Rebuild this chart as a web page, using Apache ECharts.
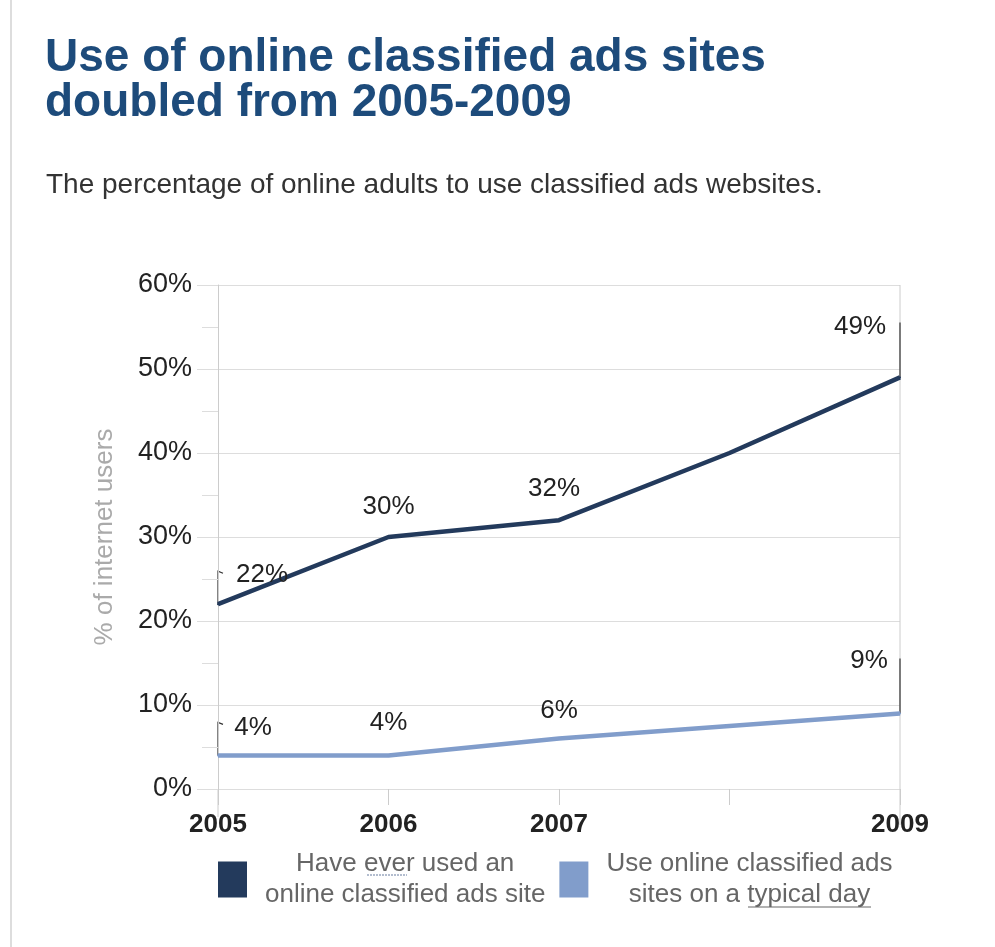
<!DOCTYPE html>
<html><head><meta charset="utf-8">
<script src="https://cdn.jsdelivr.net/npm/echarts@6/dist/echarts.min.js"></script>
<style>html,body{margin:0;padding:0;background:#fff}#c{width:995px;height:947px}</style>
</head><body><div id="c"></div>
<script>
// ---- data ----
const years = [2005, 2006, 2007, 2008, 2009];
const everUsed = [22, 30, 32, 40, 49];
const typicalDay = [4, 4, 6, 7.5, 9];
const labeledYears = [2005, 2006, 2007, 2009];
const xTickLabels = ['2005', '2006', '2007', '', '2009'];
const seriesNames = ['Have ever used an\nonline classified ads site', 'Use online classified ads\nsites on a typical day'];
const titleText = 'Use of online classified ads sites\ndoubled from 2005-2009';
const subtitleText = 'The percentage of online adults to use classified ads websites.';
const yAxisName = '% of internet users';

// ---- styles ----
const FONT = '"Liberation Sans", Arial, Helvetica, sans-serif';
const colors = ['#233a5c', '#819dcb'];
const labelOffsets = [
  {2005: [44, -29], 2006: [0, -30], 2007: [-5, -31], 2009: [-40, -51]},
  {2005: [35, -28], 2006: [0, -33], 2007: [0, -28], 2009: [-31, -53]}
];

function buildData(vals, si) {
  return years.map((y, i) => {
    const item = { value: [y, vals[i]] };
    if (labeledYears.indexOf(y) >= 0) {
      item.label = { show: true, position: 'inside', offset: labelOffsets[si][y] };
    } else {
      item.label = { show: false };
    }
    return item;
  });
}

const chart = echarts.init(document.getElementById('c'));
const option = {
  backgroundColor: '#fff',
  animation: false,
  title: [
    { text: titleText, left: 40, top: 31,
      textStyle: { fontFamily: FONT, fontSize: 46, fontWeight: 'bold', color: '#1d4b7b', lineHeight: 45 } },
    { text: subtitleText, left: 41, top: 166,
      textStyle: { fontFamily: FONT, fontSize: 28, fontWeight: 'normal', color: '#333' } }
  ],
  grid: { left: 218, right: 95, top: 285, bottom: 158 },
  xAxis: {
    type: 'value', min: 2005, max: 2009, interval: 1,
    axisLine: { show: false },
    axisTick: { show: true, length: 16, lineStyle: { color: '#ccc' } },
    splitLine: { show: false },
    axisLabel: { margin: 23, fontFamily: FONT, fontSize: 26, fontWeight: 'bold', color: '#222',
      formatter: v => xTickLabels[years.indexOf(v)] || '' }
  },
  yAxis: {
    type: 'value', min: 0, max: 60, interval: 10,
    name: yAxisName, nameLocation: 'middle', nameRotate: 90, nameGap: 100,
    nameTextStyle: { fontFamily: FONT, fontSize: 26, color: '#aaa' },
    axisLine: { show: true, lineStyle: { color: '#ccc' } },
    axisTick: { show: true, length: 21, lineStyle: { color: '#ddd' } },
    minorTick: { show: true, splitNumber: 2, length: 16, lineStyle: { color: '#ddd' } },
    splitLine: { show: true, lineStyle: { color: '#ddd' } },
    axisLabel: { margin: 26, fontFamily: FONT, fontSize: 27, color: '#222', formatter: v => v + '%' }
  },
  legend: {
    left: 218, top: 851, padding: 0, icon: 'rect', itemWidth: 29, itemHeight: 36, itemGap: 14,
    data: seriesNames.map((n, i) => ({ name: n, itemStyle: { color: colors[i] } })),
    formatter: name => name.split('\n').map(s => '{c|' + s + '}').join('\n'),
    textStyle: { padding: [0, 0, 0, 13], color: '#666', fontFamily: FONT, fontSize: 26,
      rich: { c: { align: 'center', color: '#666', fontFamily: FONT, fontSize: 26, lineHeight: 31 } } }
  },
  series: [everUsed, typicalDay].map((vals, si) => ({
    name: seriesNames[si], type: 'line', data: buildData(vals, si),
    symbol: 'circle', symbolSize: 2, showSymbol: true,
    lineStyle: { color: colors[si], width: 4.5 },
    itemStyle: { color: colors[si] },
    label: { fontFamily: FONT, fontSize: 26, color: '#222', formatter: p => p.value[1] + '%' },
    emphasis: { disabled: true }
  }))
};
chart.setOption(option);

// leader lines and decorations
const g = [];
g.push({ type: 'line', shape: { x1: 11, y1: 0, x2: 11, y2: 947 }, style: { stroke: '#ddd', lineWidth: 2 } });
const pBot = chart.convertToPixel({ gridIndex: 0 }, [2005, 0]);
const qTop = chart.convertToPixel({ gridIndex: 0 }, [2009, 60]);
g.push({ type: 'line', shape: { x1: pBot[0], y1: pBot[1], x2: pBot[0], y2: pBot[1] + 28 }, style: { stroke: '#ccc', lineWidth: 1 } });
g.push({ type: 'line', shape: { x1: qTop[0], y1: qTop[1], x2: qTop[0], y2: pBot[1] + 36 }, style: { stroke: '#ccc', lineWidth: 1 } });
[everUsed, typicalDay].forEach((vals, si) => {
  const a = chart.convertToPixel({ gridIndex: 0 }, [years[0], vals[0]]);
  g.push({ type: 'polyline', shape: { points: [[a[0], a[1]], [a[0], a[1] - 33], [a[0] + 5, a[1] - 31]] }, style: { stroke: '#333', lineWidth: 1.2, fill: null } });
  const b = chart.convertToPixel({ gridIndex: 0 }, [years[4], vals[4]]);
  g.push({ type: 'line', shape: { x1: b[0], y1: b[1], x2: b[0], y2: b[1] - 55 }, style: { stroke: '#333', lineWidth: 1.2 } });
});
// underlines in the legend text
g.push({ type: 'line', shape: { x1: 367, y1: 875, x2: 407, y2: 875 }, style: { stroke: '#9aa8c0', lineWidth: 1.5, lineDash: [2, 1] } });
g.push({ type: 'line', shape: { x1: 748, y1: 907, x2: 871, y2: 907 }, style: { stroke: '#999', lineWidth: 1.5 } });
chart.setOption({ graphic: g });
</script>
</body></html>
